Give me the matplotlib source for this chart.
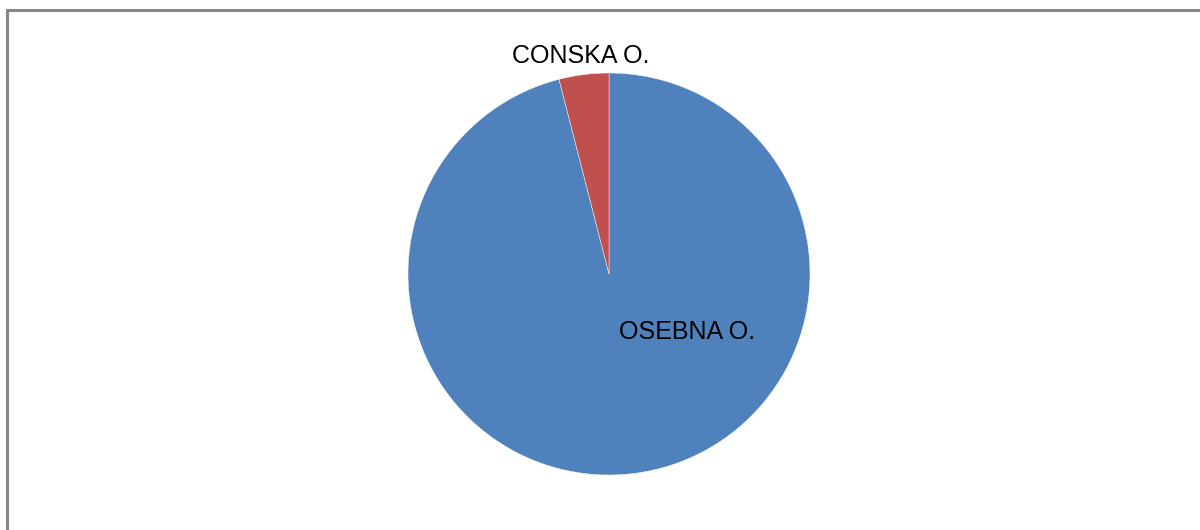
import matplotlib.pyplot as plt
from matplotlib.patches import Rectangle

plt.rcParams["font.family"] = ["Liberation Sans", "DejaVu Sans"]

labels = ["OSEBNA O.", "CONSKA O."]
shares = [96.0, 4.0]
colors = ["#4F81BD", "#C0504D"]

W, H = 1200, 530
fig = plt.figure(figsize=(W / 100, H / 100), dpi=100)
ax = fig.add_axes([0, 0, 1, 1])

cx, cy, r = 609, H - 274, 201
ax.pie(
    shares,
    colors=colors,
    startangle=90,
    counterclock=False,
    center=(cx, cy),
    radius=r,
    wedgeprops=dict(linewidth=0.3, edgecolor="white"),
    frame=True,
)
ax.set_xlim(0, W)
ax.set_ylim(0, H)
ax.set_aspect("equal")
ax.axis("off")

# data labels
ax.text(581, H - 56, labels[1], ha="center", va="center", fontsize=18)
ax.text(687, H - 332, labels[0], ha="center", va="center", fontsize=18)

# chart area border
ax.add_patch(Rectangle((7, -20), W + 20, H - 10 + 20, fill=False,
                       edgecolor="#878787", linewidth=2.2, clip_on=False))

fig.savefig("out.png", dpi=100)
